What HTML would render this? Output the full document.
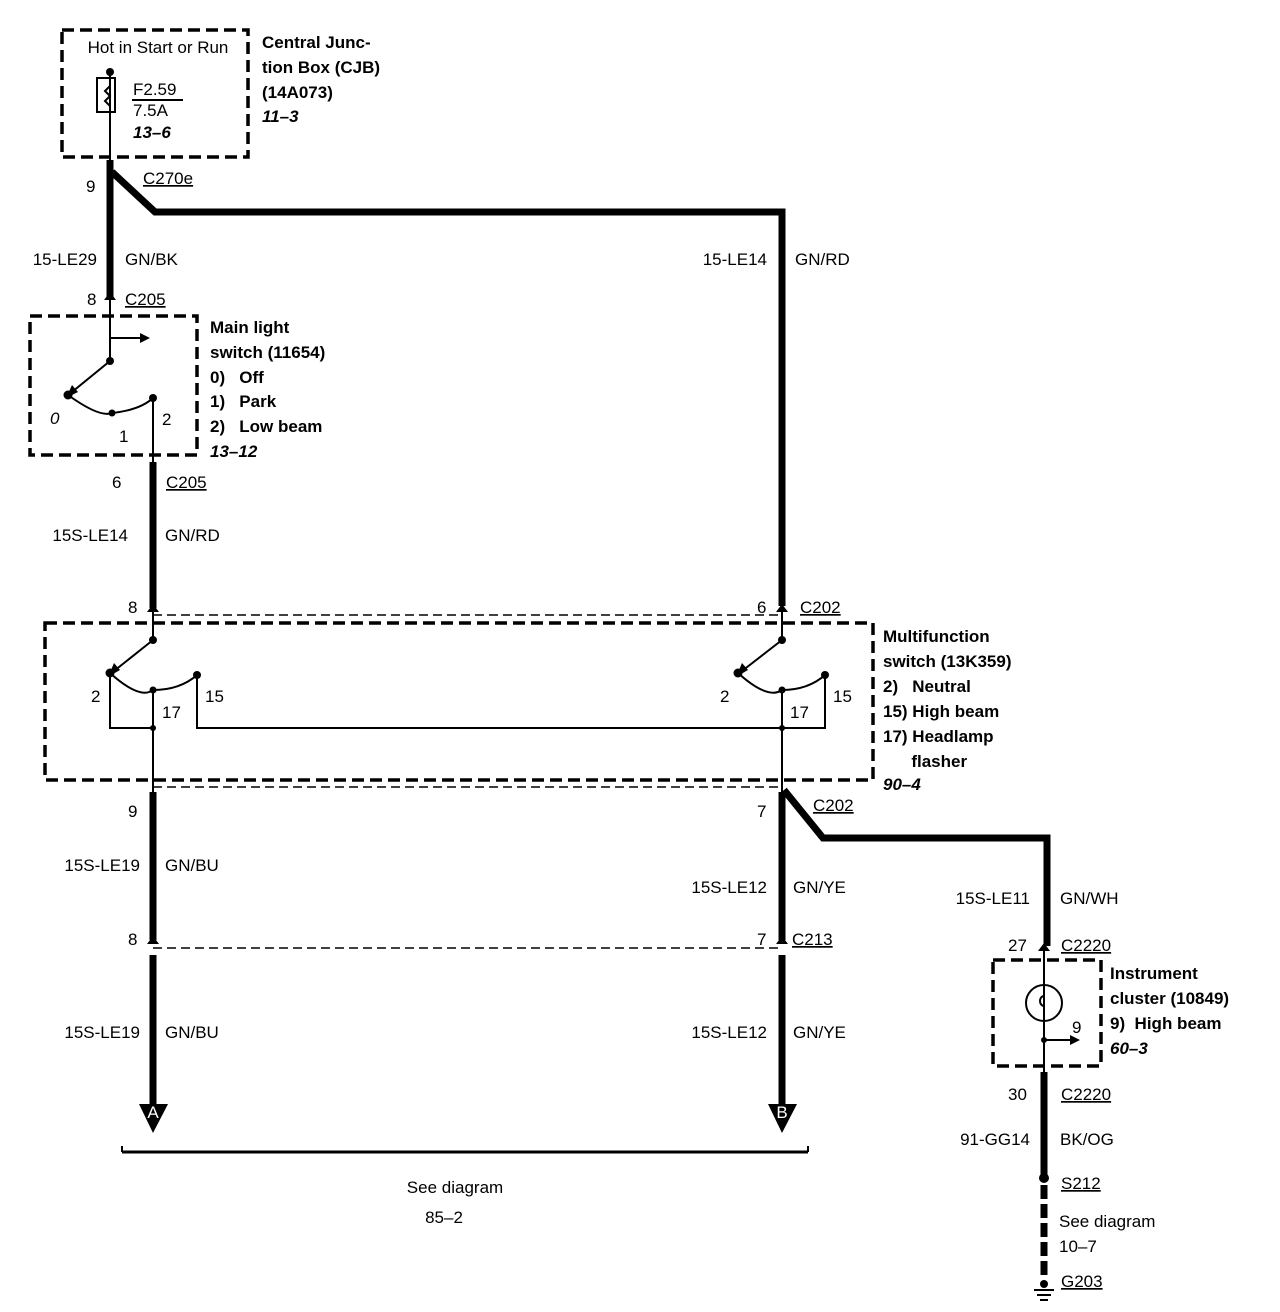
<!DOCTYPE html>
<html><head><meta charset="utf-8"><style>
html,body{margin:0;padding:0;background:#fff}
svg{display:block}
text{font-family:"Liberation Sans",Arial,sans-serif;font-size:17px;fill:#000}
.b{font-weight:bold}
.i{font-style:italic;font-weight:bold}
</style></head><body>
<svg width="1280" height="1312" viewBox="0 0 1280 1312" xmlns="http://www.w3.org/2000/svg">
<g fill="none" stroke="#000">
<g stroke-width="3.5" stroke-dasharray="12,6">
<rect x="62" y="30" width="186" height="127"/>
<rect x="30" y="316" width="167" height="139"/>
<rect x="45" y="623" width="828" height="157"/>
<rect x="993" y="960" width="108" height="106"/>
</g>
<g stroke-width="1.5" stroke-dasharray="9,5">
<line x1="153" y1="615" x2="782" y2="615"/>
<line x1="153" y1="787" x2="782" y2="787"/>
<line x1="153" y1="948" x2="782" y2="948"/>
</g>
<g stroke-width="7" stroke-linejoin="miter">
<line x1="110" y1="160" x2="110" y2="298"/>
<polyline points="112,172 155,212 782,212 782,606"/>
<line x1="153" y1="462" x2="153" y2="608"/>
<line x1="153" y1="792" x2="153" y2="940"/>
<line x1="153" y1="955" x2="153" y2="1106"/>
<line x1="782" y1="792" x2="782" y2="940"/>
<line x1="782" y1="955" x2="782" y2="1106"/>
<polyline points="784,790 823,838 1047,838 1047,946"/>
<line x1="1044" y1="1072" x2="1044" y2="1176"/>
<line x1="1044" y1="1185" x2="1044" y2="1280" stroke-dasharray="14,5"/>
</g>
<g stroke-width="2">
<line x1="110" y1="72" x2="110" y2="160"/>
<rect x="97" y="78" width="18" height="34"/>
<path d="M110,78 v8 l-5,5 l5,5 l-5,5 l5,5 v6" />
<line x1="132" y1="100" x2="183" y2="100"/>
<line x1="110" y1="298" x2="110" y2="361"/>
<line x1="110" y1="338" x2="140" y2="338"/>
<line x1="110" y1="361" x2="72" y2="392"/>
<path d="M68,395 Q100,418 112,413 Q140,410 153,398"/>
<line x1="153" y1="398" x2="153" y2="465"/>
<line x1="153" y1="608" x2="153" y2="640"/>
<line x1="153" y1="640" x2="114" y2="671"/>
<path d="M110,673 Q140,700 153,690 Q180,690 197,675"/>
<polyline points="110,673 110,728 153,728"/>
<line x1="153" y1="690" x2="153" y2="792"/>
<polyline points="197,675 197,728 782,728"/>
<line x1="782" y1="606" x2="782" y2="640"/>
<line x1="782" y1="640" x2="742" y2="671"/>
<path d="M738,673 Q768,700 782,690 Q808,690 825,675"/>
<polyline points="825,675 825,728 782,728"/>
<line x1="782" y1="690" x2="782" y2="792"/>
<line x1="1044" y1="946" x2="1044" y2="1075"/>
<circle cx="1044" cy="1003" r="18"/>
<path d="M1044,990 v6 a4,5 0 1 0 0,10 v14"/>
<line x1="1044" y1="1040" x2="1070" y2="1040"/>
<line x1="122" y1="1152" x2="808" y2="1152" stroke-width="3"/>
<line x1="122" y1="1146" x2="122" y2="1152"/>
<line x1="808" y1="1146" x2="808" y2="1152"/>
<line x1="1034" y1="1290" x2="1054" y2="1290"/>
<line x1="1037" y1="1295" x2="1051" y2="1295"/>
<line x1="1040" y1="1300" x2="1048" y2="1300"/>
</g>
</g>
<g fill="#000">
<circle cx="110" cy="72" r="4"/>
<circle cx="110" cy="361" r="4"/><circle cx="68" cy="395" r="4.5"/><circle cx="112" cy="413" r="3.5"/><circle cx="153" cy="398" r="4"/>
<polygon points="140,333 150,338 140,343"/>
<polygon points="72,385 78,392 66,398"/>
<circle cx="153" cy="640" r="4"/><circle cx="110" cy="673" r="4.5"/><circle cx="153" cy="690" r="3.5"/><circle cx="197" cy="675" r="4"/><circle cx="153" cy="728" r="3"/>
<circle cx="782" cy="640" r="4"/><circle cx="738" cy="673" r="4.5"/><circle cx="782" cy="690" r="3.5"/><circle cx="825" cy="675" r="4"/><circle cx="782" cy="728" r="3"/>
<polygon points="114,663 120,670 108,677"/><polygon points="742,663 748,670 736,677"/>
<circle cx="1044" cy="1040" r="3"/><polygon points="1070,1035 1080,1040 1070,1045"/>
<circle cx="1044" cy="1178" r="5"/><circle cx="1044" cy="1284" r="4"/>
<polygon points="139,1104 168,1104 153,1133"/>
<polygon points="768,1104 797,1104 782,1133"/>
<polygon points="104,300 110,292 116,300"/><polygon points="147,612 153,604 159,612"/><polygon points="776,612 782,604 788,612"/>
<polygon points="147,944 153,936 159,944"/><polygon points="776,944 782,936 788,944"/><polygon points="1038,951 1044,943 1050,951"/>
</g>
<text x="153" y="1118" font-size="12" style="fill:#fff" text-anchor="middle">A</text>
<text x="782" y="1118" font-size="12" style="fill:#fff" text-anchor="middle">B</text>
<g transform="translate(0,3)">
<text x="158" y="50" text-anchor="middle" font-size="16">Hot in Start or Run</text>
<text x="133" y="92">F2.59</text>
<text x="133" y="113">7.5A</text>
<text x="133" y="135" class="i">13–6</text>
<text x="262" y="45" class="b">Central Junc-</text>
<text x="262" y="70" class="b">tion Box (CJB)</text>
<text x="262" y="95" class="b">(14A073)</text>
<text x="262" y="119" class="i">11–3</text>
<text x="210" y="330" class="b">Main light</text>
<text x="210" y="355" class="b">switch (11654)</text>
<text x="210" y="380" class="b">0)&#160;&#160;&#160;Off</text>
<text x="210" y="404" class="b">1)&#160;&#160;&#160;Park</text>
<text x="210" y="429" class="b">2)&#160;&#160;&#160;Low beam</text>
<text x="210" y="454" class="i">13–12</text>
<text x="883" y="639" class="b">Multifunction</text>
<text x="883" y="664" class="b">switch (13K359)</text>
<text x="883" y="689" class="b">2)&#160;&#160;&#160;Neutral</text>
<text x="883" y="714" class="b">15)&#160;High beam</text>
<text x="883" y="739" class="b">17)&#160;Headlamp</text>
<text x="883" y="764" class="b">&#160;&#160;&#160;&#160;&#160;&#160;flasher</text>
<text x="883" y="787" class="i">90–4</text>
<text x="1110" y="976" class="b">Instrument</text>
<text x="1110" y="1001" class="b">cluster (10849)</text>
<text x="1110" y="1026" class="b">9)&#160;&#160;High beam</text>
<text x="1110" y="1051" class="i">60–3</text>
<text x="86" y="189">9</text>
<text x="143" y="181" text-decoration="underline">C270e</text>
<text x="97" y="262" text-anchor="end">15-LE29</text><text x="125" y="262">GN/BK</text>
<text x="87" y="302">8</text><text x="125" y="302" text-decoration="underline">C205</text>
<text x="50" y="421" font-style="italic">0</text><text x="119" y="439">1</text><text x="162" y="422">2</text>
<text x="112" y="485">6</text><text x="166" y="485" text-decoration="underline">C205</text>
<text x="128" y="538" text-anchor="end">15S-LE14</text><text x="165" y="538">GN/RD</text>
<text x="767" y="262" text-anchor="end">15-LE14</text><text x="795" y="262">GN/RD</text>
<text x="128" y="610">8</text><text x="757" y="610">6</text><text x="800" y="610" text-decoration="underline">C202</text>
<text x="91" y="699">2</text><text x="162" y="715">17</text><text x="205" y="699">15</text>
<text x="720" y="699">2</text><text x="790" y="715">17</text><text x="833" y="699">15</text>
<text x="128" y="814">9</text><text x="757" y="814">7</text><text x="813" y="808" text-decoration="underline">C202</text>
<text x="140" y="868" text-anchor="end">15S-LE19</text><text x="165" y="868">GN/BU</text>
<text x="767" y="890" text-anchor="end">15S-LE12</text><text x="793" y="890">GN/YE</text>
<text x="1030" y="901" text-anchor="end">15S-LE11</text><text x="1060" y="901">GN/WH</text>
<text x="128" y="942">8</text><text x="757" y="942">7</text><text x="792" y="942" text-decoration="underline">C213</text>
<text x="140" y="1035" text-anchor="end">15S-LE19</text><text x="165" y="1035">GN/BU</text>
<text x="767" y="1035" text-anchor="end">15S-LE12</text><text x="793" y="1035">GN/YE</text>
<text x="1008" y="948">27</text><text x="1061" y="948" text-decoration="underline">C2220</text>
<text x="1072" y="1030">9</text>
<text x="1008" y="1097">30</text><text x="1061" y="1097" text-decoration="underline">C2220</text>
<text x="1030" y="1142" text-anchor="end">91-GG14</text><text x="1060" y="1142">BK/OG</text>
<text x="1061" y="1186" text-decoration="underline">S212</text>
<text x="1059" y="1224">See diagram</text>
<text x="1059" y="1249">10–7</text>
<text x="1061" y="1284" text-decoration="underline">G203</text>
<text x="455" y="1190" text-anchor="middle">See diagram</text>
<text x="444" y="1220" text-anchor="middle">85–2</text>
</g>
</svg>
</body></html>
